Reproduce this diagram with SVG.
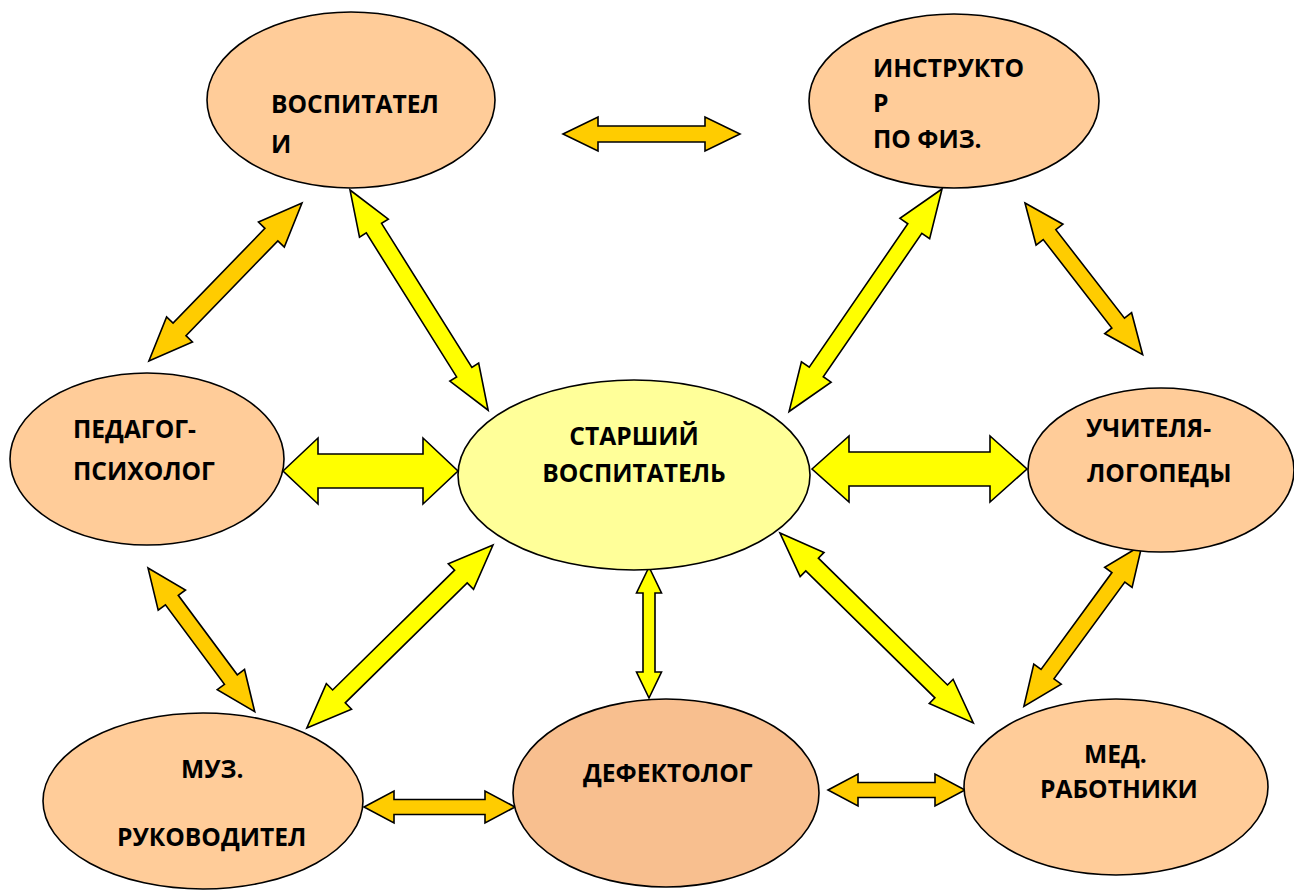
<svg xmlns="http://www.w3.org/2000/svg" width="1294" height="890" viewBox="0 0 1294 890">
<style>
.node{fill:#FFCC99;stroke:#000;stroke-width:1.6}
.center{fill:#FFFF99;stroke:#000;stroke-width:1.6}
.dark{fill:#F8BF8F;stroke:#000;stroke-width:1.6}
.ay{fill:#FFFF00;stroke:#000;stroke-width:1.6;stroke-linejoin:miter}
.ao{fill:#FFCC00;stroke:#000;stroke-width:1.6;stroke-linejoin:miter}
text{font-family:"Open Sans","Liberation Sans",sans-serif;font-weight:bold;font-size:24.6px;fill:#000}
</style>
<rect width="1294" height="890" fill="#fff"/>
<g id="connectors">
<path class="ao" transform="translate(563,134)" d="M0,0 L35,-17 L35,-8 L142,-8 L142,-17 L177,0 L142,17 L142,8 L35,8 L35,17 Z"/>
<path class="ay" transform="translate(283,471)" d="M0,0 L35,-33 L35,-17 L140,-17 L140,-33 L175,0 L140,33 L140,17 L35,17 L35,33 Z"/>
<path class="ay" transform="translate(812,469)" d="M0,0 L37,-33 L37,-17 L178,-17 L178,-33 L215,0 L178,33 L178,17 L37,17 L37,33 Z"/>
<path class="ay" transform="translate(649,567) rotate(90)" d="M0,0 L26,-12.5 L26,-6 L105,-6 L105,-12.5 L131,0 L105,12.5 L105,6 L26,6 L26,12.5 Z"/>
<path class="ao" transform="translate(364,807)" d="M0,0 L30,-16 L30,-7.5 L121,-7.5 L121,-16 L151,0 L121,16 L121,7.5 L30,7.5 L30,16 Z"/>
<path class="ao" transform="translate(828,790)" d="M0,0 L30,-16 L30,-7.5 L107,-7.5 L107,-16 L137,0 L107,16 L107,7.5 L30,7.5 L30,16 Z"/>
<path class="ao" transform="translate(302,203) rotate(134.1)" d="M0,0 L44,-18 L44,-9 L176,-9 L176,-18 L220,0 L176,18 L176,9 L44,9 L44,18 Z"/>
<path class="ay" transform="translate(350,190) rotate(57.9)" d="M0,0 L45,-17 L45,-9 L215,-9 L215,-17 L260,0 L215,17 L215,9 L45,9 L45,17 Z"/>
<path class="ay" transform="translate(942,189) rotate(124.5)" d="M0,0 L48,-18 L48,-8.5 L222,-8.5 L222,-18 L270,0 L222,18 L222,8.5 L48,8.5 L48,18 Z"/>
<path class="ao" transform="translate(1025,203) rotate(52.2)" d="M0,0 L40,-17 L40,-8 L152,-8 L152,-17 L192,0 L152,17 L152,8 L40,8 L40,17 Z"/>
<path class="ao" transform="translate(148,568) rotate(53.4)" d="M0,0 L40,-17 L40,-8 L139,-8 L139,-17 L179,0 L139,17 L139,8 L40,8 L40,17 Z"/>
<path class="ay" transform="translate(493,545) rotate(135.5)" d="M0,0 L45,-18 L45,-9 L216,-9 L216,-18 L261,0 L216,18 L216,9 L45,9 L45,18 Z"/>
<path class="ay" transform="translate(780,533) rotate(44.5)" d="M0,0 L45,-17 L45,-9 L226,-9 L226,-17 L271,0 L226,17 L226,9 L45,9 L45,17 Z"/>
<path class="ao" transform="translate(1142,545) rotate(126.2)" d="M0,0 L40,-17 L40,-8 L160,-8 L160,-17 L200,0 L160,17 L160,8 L40,8 L40,17 Z"/>
</g>
<g id="vospitateli">
<ellipse class="node" cx="351" cy="100" rx="144" ry="88"/>
<text x="271" y="113">ВОСПИТАТЕЛ</text>
<text x="271" y="153">И</text>
</g>
<g id="instruktor">
<ellipse class="node" cx="954" cy="101" rx="145" ry="87"/>
<text x="873" y="77">ИНСТРУКТО</text>
<text x="873" y="112">Р</text>
<text x="873" y="148">ПО ФИЗ.</text>
</g>
<g id="pedagog">
<ellipse class="node" cx="147" cy="459" rx="137" ry="86"/>
<text x="73" y="438">ПЕДАГОГ-</text>
<text x="73" y="480">ПСИХОЛОГ</text>
</g>
<g id="starshiy">
<ellipse class="center" cx="634" cy="475" rx="176" ry="95"/>
<text x="634" y="445" text-anchor="middle">СТАРШИЙ</text>
<text x="634" y="482" text-anchor="middle">ВОСПИТАТЕЛЬ</text>
</g>
<g id="uchitelya">
<ellipse class="node" cx="1161" cy="470" rx="133" ry="82"/>
<text x="1086" y="437">УЧИТЕЛЯ-</text>
<text x="1087" y="482">ЛОГОПЕДЫ</text>
</g>
<g id="muz">
<ellipse class="node" cx="203" cy="801" rx="160" ry="88"/>
<text x="181" y="778">МУЗ.</text>
<text x="117" y="846">РУКОВОДИТЕЛ</text>
</g>
<g id="defektolog">
<ellipse class="dark" cx="666" cy="793" rx="153" ry="94"/>
<text x="583" y="782">ДЕФЕКТОЛОГ</text>
</g>
<g id="med">
<ellipse class="node" cx="1116" cy="787" rx="152" ry="88"/>
<text x="1084" y="763">МЕД.</text>
<text x="1040" y="798">РАБОТНИКИ</text>
</g>
</svg>
